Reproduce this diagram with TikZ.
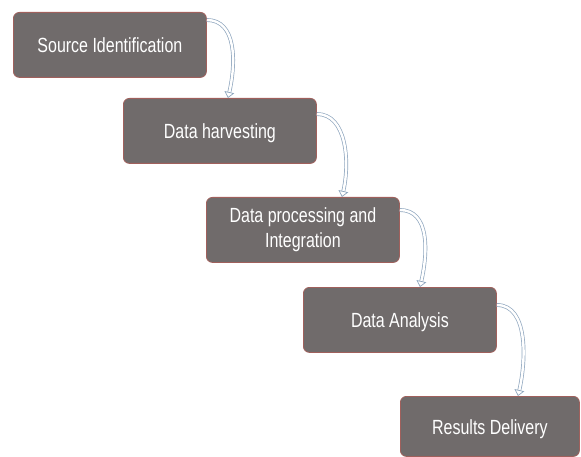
\documentclass[tikz,border=0pt]{standalone}
\usepackage{fontspec}
\setmainfont{Liberation Sans}
\usetikzlibrary{arrows.meta}
\definecolor{boxfill}{HTML}{706B6B}
\definecolor{boxedge}{HTML}{A0605C}
\definecolor{arrowc}{HTML}{8FA6BE}
\newcommand{\boxtext}[1]{\scalebox{0.78}[1]{\begin{tabular}{@{}c@{}}#1\end{tabular}}}
\newcommand{\boxline}[1]{\raisebox{-3pt}[\height][\depth]{\boxtext{#1}}}
\tikzset{
  stepbox/.style={draw=boxedge, line width=0.8pt, fill=boxfill, rounded corners=6pt,
    minimum width=193pt, minimum height=65pt, text=white, font=\fontsize{20.5}{25}\selectfont,
    align=center, inner sep=0pt, anchor=north west},
  flowarrow/.style={draw=arrowc, line width=0.7pt, double=white, double distance=2.4pt,
    -{Triangle[open, length=6pt, width=10pt, fill=white]}}
}
\begin{document}
\begin{tikzpicture}[x=1pt,y=-1pt]
\useasboundingbox (0,0) rectangle (581,457);
\node[stepbox] (b1) at (13,12) {\boxline{Source Identification}};
\node[stepbox] (b2) at (123,98) {\boxline{Data harvesting}};
\node[stepbox] (b3) at (206,197) {\boxtext{Data processing and\\Integration}};
\node[stepbox] (b4) at (303,287) {\boxline{Data Analysis}};
\node[stepbox, minimum width=179pt, minimum height=60pt] (b5) at (400,396) {\boxline{Results Delivery}};
\coordinate (s1) at ([yshift=-8pt]b1.north east);
\coordinate (e1) at ([xshift=105pt]b2.north west);
\coordinate (s2) at ([yshift=-16pt]b2.north east);
\coordinate (e2) at ([xshift=136pt]b3.north west);
\coordinate (s3) at ([yshift=-13pt]b3.north east);
\coordinate (e3) at ([xshift=117pt]b4.north west);
\coordinate (s4) at ([yshift=-18pt]b4.north east);
\coordinate (e4) at ([xshift=118pt]b5.north west);
\draw[flowarrow] (s1) .. controls +(30,0) and +(8,-35) .. (e1);
\draw[flowarrow] (s2) .. controls +(30,0) and +(8,-35) .. (e2);
\draw[flowarrow] (s3) .. controls +(30,0) and +(8,-35) .. (e3);
\draw[flowarrow] (s4) .. controls +(32,0) and +(8,-35) .. (e4);
\end{tikzpicture}
\end{document}
